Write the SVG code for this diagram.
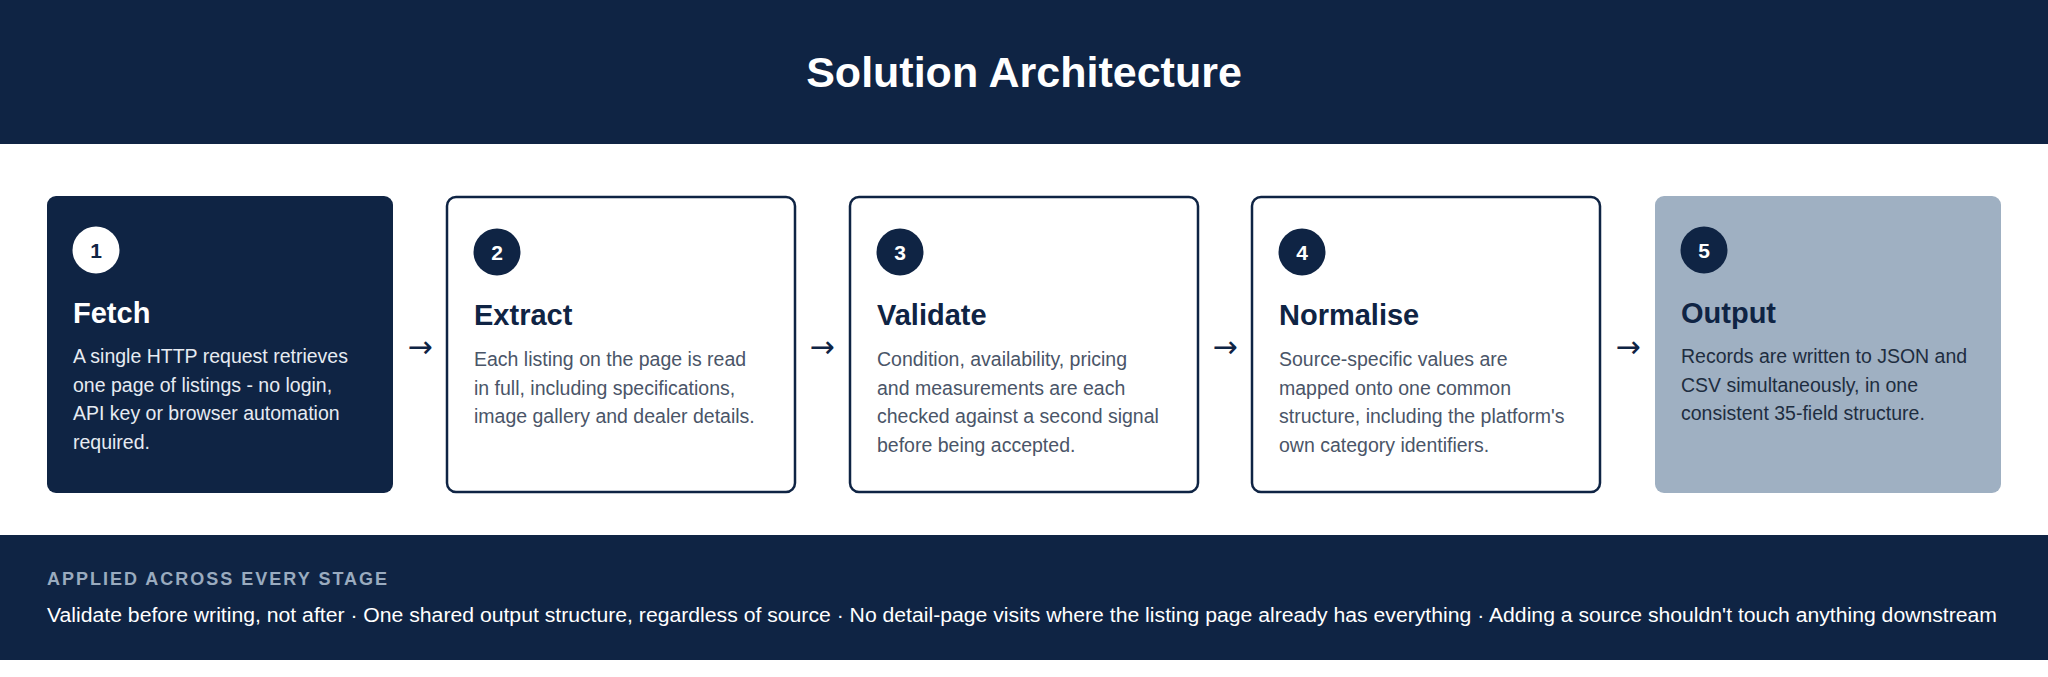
<svg xmlns="http://www.w3.org/2000/svg" width="2048" height="677" viewBox="0 0 2048 677">
<style>
.h{font-family:"Liberation Sans",Arial,sans-serif;font-weight:bold}
.t{font-family:"Liberation Sans",Arial,sans-serif;font-weight:bold;font-size:29px}
.d{font-family:"Liberation Sans",Arial,sans-serif;font-size:19.5px}
.n{font-family:"Liberation Sans",Arial,sans-serif;font-weight:bold;font-size:21px;text-anchor:middle}
.ar{font-family:"DejaVu Sans",sans-serif;font-size:30px;fill:#0f2444;text-anchor:middle}
</style>
<rect width="2048" height="677" fill="#ffffff"/>
<rect width="2048" height="144" fill="#0f2444"/>
<text x="1024" y="87" class="h" font-size="43" fill="#ffffff" text-anchor="middle">Solution Architecture</text>
<g id="n1">
<rect x="47" y="196" width="346" height="297" rx="9" fill="#0f2444"/>
<circle cx="96" cy="250" r="23.5" fill="#ffffff"/><text x="96" y="258" class="n" fill="#0f2444">1</text>
<text x="73" y="323" class="t" fill="#ffffff">Fetch</text>
<text class="d" fill="#e6ebf2"><tspan x="73" y="363">A single HTTP request retrieves</tspan><tspan x="73" y="392">one page of listings - no login,</tspan><tspan x="73" y="420">API key or browser automation</tspan><tspan x="73" y="449">required.</tspan></text>
</g>
<g id="n2">
<rect x="447" y="197" width="348" height="295" rx="9" fill="#ffffff" stroke="#0f2444" stroke-width="2.5"/>
<circle cx="497" cy="252" r="23.5" fill="#0f2444"/><text x="497" y="260" class="n" fill="#ffffff">2</text>
<text x="474" y="325" class="t" fill="#0f2444">Extract</text>
<text class="d" fill="#4a5568"><tspan x="474" y="366">Each listing on the page is read</tspan><tspan x="474" y="395">in full, including specifications,</tspan><tspan x="474" y="423">image gallery and dealer details.</tspan></text>
</g>
<g id="n3">
<rect x="850" y="197" width="348" height="295" rx="9" fill="#ffffff" stroke="#0f2444" stroke-width="2.5"/>
<circle cx="900" cy="252" r="23.5" fill="#0f2444"/><text x="900" y="260" class="n" fill="#ffffff">3</text>
<text x="877" y="325" class="t" fill="#0f2444">Validate</text>
<text class="d" fill="#4a5568"><tspan x="877" y="366">Condition, availability, pricing</tspan><tspan x="877" y="395">and measurements are each</tspan><tspan x="877" y="423">checked against a second signal</tspan><tspan x="877" y="452">before being accepted.</tspan></text>
</g>
<g id="n4">
<rect x="1252" y="197" width="348" height="295" rx="9" fill="#ffffff" stroke="#0f2444" stroke-width="2.5"/>
<circle cx="1302" cy="252" r="23.5" fill="#0f2444"/><text x="1302" y="260" class="n" fill="#ffffff">4</text>
<text x="1279" y="325" class="t" fill="#0f2444">Normalise</text>
<text class="d" fill="#4a5568"><tspan x="1279" y="366">Source-specific values are</tspan><tspan x="1279" y="395">mapped onto one common</tspan><tspan x="1279" y="423">structure, including the platform's</tspan><tspan x="1279" y="452">own category identifiers.</tspan></text>
</g>
<g id="n5">
<rect x="1655" y="196" width="346" height="297" rx="9" fill="#9fb0c2"/>
<circle cx="1704" cy="250" r="23.5" fill="#0f2444"/><text x="1704" y="258" class="n" fill="#ffffff">5</text>
<text x="1681" y="323" class="t" fill="#0f2444">Output</text>
<text class="d" fill="#1e2d40"><tspan x="1681" y="363">Records are written to JSON and</tspan><tspan x="1681" y="392">CSV simultaneously, in one</tspan><tspan x="1681" y="420">consistent 35-field structure.</tspan></text>
</g>
<g id="connectors">
<text x="420" y="357" class="ar">→</text>
<text x="822" y="357" class="ar">→</text>
<text x="1225" y="357" class="ar">→</text>
<text x="1628" y="357" class="ar">→</text>
</g>
<g id="footer">
<rect x="0" y="535" width="2048" height="125" fill="#0f2444"/>
<text x="47" y="585" class="h" font-size="18" letter-spacing="2" fill="#9aabbf">APPLIED ACROSS EVERY STAGE</text>
<text x="47" y="622" class="d" font-size="21.5" fill="#ffffff" textLength="1950" lengthAdjust="spacingAndGlyphs">Validate before writing, not after · One shared output structure, regardless of source · No detail-page visits where the listing page already has everything · Adding a source shouldn't touch anything downstream</text>
</g>
</svg>
